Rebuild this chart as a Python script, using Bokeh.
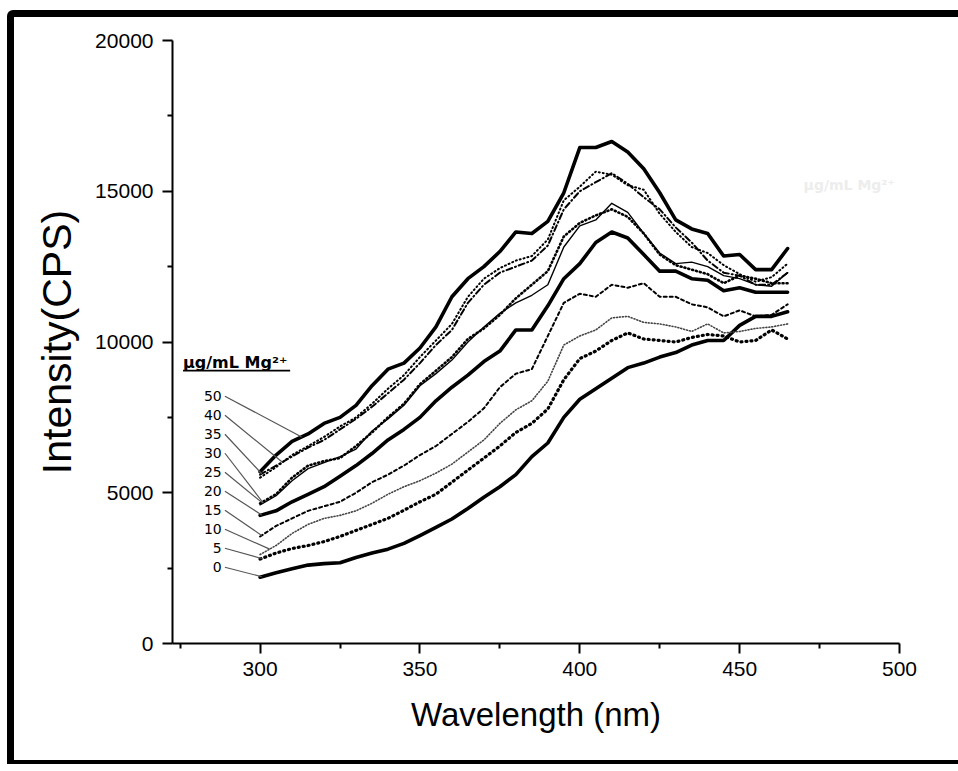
import numpy as np
from bokeh.plotting import figure
from bokeh.models import FixedTicker, Label, BoxAnnotation, Range1d, Div, Row, Column
from bokeh.embed import file_html
from bokeh.resources import INLINE

# ---------------- data ----------------
wavelength = [300, 305, 310, 315, 320, 325, 330, 335, 340, 345, 350, 355,
              360, 365, 370, 375, 380, 385, 390, 395, 400, 405, 410, 415,
              420, 425, 430, 435, 440, 445, 450, 455, 460, 465]

mg_0 = [2200, 2350, 2480, 2600, 2650, 2680, 2850, 3000, 3130, 3320, 3580, 3850,
        4130, 4480, 4850, 5200, 5600, 6200, 6650, 7500, 8100, 8450, 8800, 9150,
        9300, 9500, 9650, 9900, 10050, 10050, 10550, 10850, 10850, 11000]
mg_5 = [2800, 3000, 3150, 3250, 3380, 3550, 3750, 3950, 4150, 4420, 4700, 4950,
        5350, 5750, 6150, 6550, 7000, 7300, 7780, 8750, 9450, 9700, 10050, 10300,
        10100, 10050, 10000, 10150, 10250, 10200, 10000, 10050, 10400, 10100]
mg_10 = [2950, 3250, 3650, 3950, 4150, 4250, 4400, 4650, 4950, 5200, 5400, 5650,
         5950, 6350, 6750, 7300, 7750, 8050, 8700, 9900, 10200, 10400, 10800, 10850,
         10650, 10600, 10500, 10350, 10600, 10300, 10350, 10450, 10500, 10600]
mg_15 = [3550, 3900, 4150, 4400, 4550, 4700, 5000, 5350, 5600, 5900, 6250, 6550,
         6950, 7350, 7800, 8500, 8950, 9100, 10200, 11300, 11600, 11500, 11900, 11800,
         11950, 11500, 11500, 11250, 11150, 10850, 11050, 10850, 10900, 11250]
mg_20 = [4250, 4400, 4700, 4950, 5200, 5550, 5900, 6300, 6750, 7100, 7500, 8050,
         8500, 8900, 9350, 9700, 10400, 10400, 11200, 12100, 12600, 13300, 13650, 13450,
         12900, 12350, 12350, 12100, 12050, 11700, 11800, 11650, 11650, 11650]
mg_25 = [4650, 4950, 5500, 5900, 6050, 6150, 6550, 7000, 7500, 7950, 8600, 9050,
         9500, 10100, 10450, 10900, 11450, 11900, 12350, 13500, 13950, 14200, 14400, 14150,
         13600, 12900, 12550, 12400, 12250, 11950, 12200, 12100, 11950, 11950]
mg_30 = [4600, 4900, 5400, 5800, 6000, 6200, 6450, 7050, 7450, 7900, 8550, 8950,
         9400, 10000, 10500, 10950, 11300, 11550, 11900, 13150, 13850, 14050, 14600, 14300,
         13600, 12950, 12600, 12650, 12500, 12200, 12100, 11900, 11850, 12300]
mg_35 = [5600, 5900, 6200, 6500, 6750, 7100, 7450, 7850, 8300, 8750, 9300, 9900,
         10400, 11300, 11900, 12300, 12500, 12700, 13200, 14400, 15000, 15300, 15600, 15250,
         14800, 14400, 13800, 13300, 12700, 12300, 12200, 11900, 11900, 12300]
mg_40 = [5500, 5850, 6250, 6550, 6850, 7200, 7500, 7950, 8450, 8900, 9500, 10050,
         10600, 11500, 12100, 12450, 12700, 12850, 13400, 14700, 15150, 15650, 15550, 15200,
         15050, 14250, 13650, 13150, 12950, 12550, 12250, 12000, 12150, 12600]
mg_50 = [5700, 6250, 6700, 6950, 7300, 7500, 7900, 8550, 9100, 9300, 9800, 10500,
         11500, 12100, 12500, 13000, 13650, 13600, 14000, 14950, 16450, 16450, 16650, 16300,
         15750, 14950, 14050, 13750, 13600, 12850, 12900, 12400, 12400, 13100]

series_labels = ["0", "5", "10", "15", "20", "25", "30", "35", "40", "50"]
series_values = [mg_0, mg_5, mg_10, mg_15, mg_20, mg_25, mg_30, mg_35, mg_40, mg_50]
# wavelength on each curve that its legend leader points to
leader_target = [300.5, 300.5, 303, 300.5, 300.5, 300.5, 301, 300.5, 307, 313]

x_major = [300, 350, 400, 450, 500]
x_minor = [275, 325, 375, 425, 475]
y_major = [0, 5000, 10000, 15000, 20000]
y_minor = [2500, 7500, 12500, 17500]

# ---------------- styles ----------------
styles = {
    "0":  dict(line_width=3.6, line_dash="solid", line_color="black"),
    "5":  dict(line_width=3.2, line_dash="1 4", line_color="black"),
    "10": dict(line_width=1.6, line_dash="1 2", line_color="#444444"),
    "15": dict(line_width=2.0, line_dash="3 3", line_color="black"),
    "20": dict(line_width=3.6, line_dash="solid", line_color="black"),
    "25": dict(line_width=2.6, line_dash="1 3", line_color="black"),
    "30": dict(line_width=1.4, line_dash="solid", line_color="black"),
    "35": dict(line_width=2.0, line_dash="6 3 1 3", line_color="black"),
    "40": dict(line_width=2.0, line_dash="1 3", line_color="black"),
    "50": dict(line_width=3.6, line_dash="solid", line_color="black"),
}

FONT = "Liberation Sans"
LEG_FONT = "DejaVu Sans"

p = figure(width=944, height=743, output_backend="svg", toolbar_location=None,
           x_range=Range1d(272.6, 500), y_range=Range1d(0, 20000),
           min_border_left=158, min_border_right=59, min_border_top=23,
           min_border_bottom=117, x_axis_label="Wavelength (nm)",
           y_axis_label="Intensity(CPS)")
p.xgrid.visible = False
p.ygrid.visible = False
p.outline_line_color = None
p.background_fill_color = "white"
p.border_fill_color = "white"

p.xaxis.ticker = FixedTicker(ticks=x_major, minor_ticks=x_minor)
p.yaxis.ticker = FixedTicker(ticks=y_major, minor_ticks=y_minor)

for ax in (p.xaxis[0], p.yaxis[0]):
    ax.axis_line_width = 2
    ax.major_tick_line_width = 2
    ax.minor_tick_line_width = 2
    ax.major_tick_out = 10
    ax.major_tick_in = 0
    ax.minor_tick_out = 5
    ax.minor_tick_in = 0
    ax.major_label_text_font = FONT
    ax.major_label_text_font_size = "21px"
    ax.major_label_text_color = "black"
    ax.axis_label_text_font = FONT
    ax.axis_label_text_font_style = "normal"
    ax.axis_label_text_color = "black"
p.xaxis.axis_label_text_font_size = "33px"
p.yaxis.axis_label_text_font_size = "41px"
p.xaxis.major_label_standoff = 8
p.xaxis.axis_label_standoff = 17
p.yaxis.major_label_standoff = 9
p.yaxis.axis_label_standoff = 12

# curves
for lab, vals in zip(series_labels, series_values):
    p.line(wavelength, vals, line_join="round", line_cap="round", **styles[lab])

# legend labels with leader lines
label_x = 288.0
label_top = 8200
label_step = 630
order = ["50", "40", "35", "30", "25", "20", "15", "10", "5", "0"]
x0s, y0s, x1s, y1s = [], [], [], []
for i, lab in enumerate(order):
    ly = label_top - i * label_step
    p.add_layout(Label(x=label_x, y=ly, text=lab, text_align="right",
                       text_baseline="middle", text_font=LEG_FONT,
                       text_font_size="14px", text_color="black"))
    k = series_labels.index(lab)
    tx = leader_target[k]
    ty = float(np.interp(tx, wavelength, series_values[k]))
    x0s.append(label_x + 1.0)
    y0s.append(ly)
    x1s.append(tx)
    y1s.append(ty)
p.segment(x0=x0s, y0=y0s, x1=x1s, y1=y1s, line_color="#555555", line_width=1.2)

title_x = 275.9
title_y = 9330
p.add_layout(Label(x=title_x, y=title_y, text="µg/mL Mg²⁺", text_align="left",
                   text_baseline="middle", text_font=LEG_FONT, text_font_size="16px",
                   text_font_style="bold", text_color="black"))
p.add_layout(BoxAnnotation(left=title_x, right=title_x + 33.5, bottom=9020, top=9080,
                           fill_color="black", fill_alpha=1, line_color=None))

# faint ghost of the legend title (scan artefact) at top right
p.add_layout(Label(x=470, y=15200, text="µg/mL Mg²⁺", text_align="left",
                   text_baseline="middle", text_font=LEG_FONT, text_font_size="14px",
                   text_font_style="bold", text_color="#ededed"))

# picture frame: black bars at the top, left and bottom of the picture
top_bar = Div(text="", width=951, height=7, margin=(10, 0, 0, 7),
              styles={"background-color": "black", "border-top-left-radius": "6px"})
left_bar = Div(text="", width=7, height=743, margin=(0, 0, 0, 0),
               styles={"background-color": "black"})
bottom_bar = Div(text="", width=951, height=4, margin=(0, 0, 0, 7),
                 styles={"background-color": "black"})
middle = Row(children=[left_bar, p], margin=(0, 0, 0, 7), spacing=0)
root = Column(children=[top_bar, middle, bottom_bar], spacing=0)

html = file_html(root, INLINE)
html = html.replace("<head>", "<head><style>html, body { margin: 0; padding: 0; overflow: hidden; }</style>", 1)
open("out.html", "w").write(html)
